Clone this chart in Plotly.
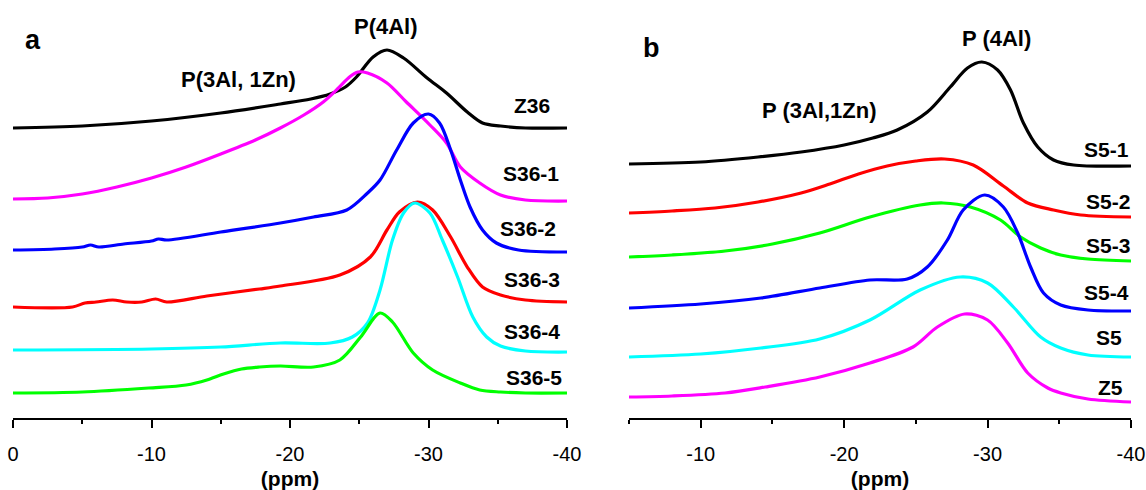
import plotly.graph_objects as go

# ---------------- data (chemical shift in ppm, stacked intensity a.u.) ----------------
# Panel a
z36_x = [0, -5, -10, -15, -19.3, -21.5, -22.9, -24, -24.8, -26, -27, -28.2, -29.9, -31.3, -32.8, -33.9, -35.2, -37, -40]
z36_y = [290, 292, 297, 305, 314, 319, 324, 331, 341, 361, 368, 360, 340, 325, 306, 295, 292, 290, 290]

s36_1_x = [0, -2.5, -5, -7.5, -10, -12.5, -15, -17.5, -19.3, -21, -22.4, -23.5, -24.3, -24.9, -25.6, -27, -28.4,
           -30.1, -31.3, -32.3, -33.7, -35.2, -37, -40]
s36_1_y = [219, 220, 224, 231, 240, 251, 264, 278, 290, 303, 316, 330, 341, 346, 345, 335, 316, 293, 275, 251,
           235, 223, 218, 217]

s36_2_x = [0, -3, -5, -5.6, -6.2, -8, -10, -10.5, -11.1, -15, -19.3, -21.7, -24.1, -25.6, -26.5, -27.7, -28.9,
           -30, -30.8, -31.6, -32.3, -33, -33.9, -34.9, -36.5, -40]
s36_2_y = [168, 169, 171, 173, 171, 174, 177, 179, 178, 186, 195, 201, 208, 225, 238, 268, 295, 304, 295, 268,
           238, 211, 188, 175, 168, 166]

s36_3_x = [0, -4.3, -5.2, -6, -7.2, -8.2, -9.3, -10.3, -11.1, -14, -17.8, -19.3, -23.6, -25.8, -27, -27.9, -29.2,
           -30.3, -31.6, -32.8, -33.9, -35.2, -37, -40]
s36_3_y = [111, 111, 115, 116, 118, 116, 116, 119, 116, 122, 129, 132, 143, 161, 188, 206, 216, 208, 181, 151,
           131, 123, 118, 116]

s36_4_x = [0, -10, -15, -19.3, -22.9, -24.5, -25.6, -26.5, -27.4, -28.2, -29, -30.1, -31, -32.1, -33.2, -34.2,
           -35.2, -37, -40]
s36_4_y = [68, 69, 71, 75, 75, 81, 95, 128, 178, 205, 215, 205, 178, 141, 101, 81, 72, 67, 66]

s36_5_x = [0, -5, -9.8, -12.5, -14, -15.2, -16.5, -17.8, -19.3, -21.7, -23.6, -25.1, -26.5, -27.4, -28.9, -30.3,
           -32.3, -33.7, -35.2, -37, -40]
s36_5_y = [25, 26, 30, 33, 38, 44, 49, 51, 52, 51, 58, 81, 105, 96, 65, 48, 35, 28, 26, 25, 25]

# Panel b
s5_1_x = [-5, -10, -14, -17, -20, -22, -23.7, -25.8, -27.4, -28.6, -29.6, -30.7, -31.6, -32.5, -33.5, -34.6, -36, -40]
s5_1_y = [254, 256, 261, 266, 273, 280, 288, 306, 331, 350, 356, 348, 328, 295, 271, 258, 253, 252]

s5_2_x = [-5, -8, -11, -14, -17, -19, -21, -23, -25, -27, -29, -31.1, -32.8, -34.6, -36.5, -40]
s5_2_y = [205, 207, 210, 216, 225, 234, 244, 252, 257, 259, 253, 232, 215, 208, 203, 201]

s5_3_x = [-5, -8, -11.7, -15, -18.3, -21.8, -25.3, -26.9, -28.8, -30.9, -32.3, -33.7, -35.1, -37, -40]
s5_3_y = [161, 163, 167, 174, 185, 201, 213, 215, 211, 198, 181, 170, 163, 159, 157]

s5_4_x = [-5, -10, -14.2, -18.3, -21.8, -24.4, -25.8, -27.2, -28.3, -29.8, -31.1, -32.1, -33, -33.9, -35.1, -37, -40]
s5_4_y = [110, 114, 120, 130, 138, 139, 151, 178, 208, 223, 211, 185, 151, 125, 113, 108, 107]

s5_x = [-5, -10, -14.2, -18.3, -21.8, -25.3, -28.1, -30, -31.8, -33.7, -35.1, -37, -40]
s5_y = [61, 64, 70, 79, 98, 128, 141, 135, 111, 81, 70, 63, 61]

z5_x = [-5, -8, -11.7, -14.5, -18.3, -21.8, -24.8, -26.5, -28.4, -30, -31.4, -32.8, -34.2, -35.1, -37, -40]
z5_y = [21, 22, 25, 31, 41, 55, 71, 91, 104, 98, 75, 45, 30, 25, 19, 16]

names_a = ["Z36", "S36-1", "S36-2", "S36-3", "S36-4", "S36-5"]
names_b = ["S5-1", "S5-2", "S5-3", "S5-4", "S5", "Z5"]
tick_a = [0, -10, -20, -30, -40]
tick_b = [-10, -20, -30, -40]

# ---------------- styling ----------------
colors_a = ["#000000", "#ff00ff", "#0000ff", "#ff0000", "#00ffff", "#00ff00"]
colors_b = ["#000000", "#ff0000", "#00ff00", "#0000ff", "#00ffff", "#ff00ff"]
FONT = "Arial, Liberation Sans, Helvetica, sans-serif"

series_a = [(z36_x, z36_y), (s36_1_x, s36_1_y), (s36_2_x, s36_2_y),
            (s36_3_x, s36_3_y), (s36_4_x, s36_4_y), (s36_5_x, s36_5_y)]
series_b = [(s5_1_x, s5_1_y), (s5_2_x, s5_2_y), (s5_3_x, s5_3_y),
            (s5_4_x, s5_4_y), (s5_x, s5_y), (z5_x, z5_y)]

fig = go.Figure()
for (x, y), n, c in zip(series_a, names_a, colors_a):
    fig.add_trace(go.Scatter(x=x, y=y, mode="lines", name=n, xaxis="x", yaxis="y",
                             line=dict(color=c, width=3.2, shape="spline", smoothing=0.9)))
for (x, y), n, c in zip(series_b, names_b, colors_b):
    fig.add_trace(go.Scatter(x=x, y=y, mode="lines", name=n, xaxis="x2", yaxis="y2",
                             line=dict(color=c, width=3.2, shape="spline", smoothing=0.9)))

W, H = 1146, 490
axis_common = dict(
    showgrid=False, zeroline=False, showline=True, linecolor="#000", linewidth=1.5,
    ticks="outside", ticklen=8, tickwidth=1.5, tickcolor="#000",
    tickfont=dict(family=FONT, size=20, color="#000"),
    minor=dict(ticks="outside", ticklen=4, tickwidth=1.5, tickcolor="#000", dtick=5, tick0=0),
    ticklabelstandoff=9,
    title=dict(text="<b>(ppm)</b>", font=dict(family=FONT, size=21, color="#000"), standoff=13),
    automargin=False,
)
yaxis_common = dict(visible=False, range=[0, 418], fixedrange=True)
bottom = (H - 418) / H

fig.update_layout(
    width=W, height=H,
    margin=dict(l=0, r=0, t=0, b=0),
    paper_bgcolor="white", plot_bgcolor="white",
    showlegend=False,
    xaxis=dict(domain=[13 / W, 567 / W], range=[0, -40], tickvals=tick_a,
               ticktext=[str(v) for v in tick_a], anchor="y", **axis_common),
    yaxis=dict(domain=[bottom, 1], anchor="x", **yaxis_common),
    xaxis2=dict(domain=[629 / W, 1131 / W], range=[-5, -40], tickvals=tick_b,
                ticktext=[str(v) for v in tick_b], anchor="y2", **axis_common),
    yaxis2=dict(domain=[bottom, 1], anchor="x2", **yaxis_common),
)

label_font = dict(family=FONT, size=21, color="#000")
lab_a = [(-37.5, 313), (-37.4, 245), (-37.2, 190), (-37.5, 139), (-37.5, 87), (-37.6, 41)]
lab_b = [(-38.3, 269), (-38.4, 217), (-38.4, 173), (-38.3, 126), (-38.5, 81), (-38.6, 31)]
for n, (lx, ly) in zip(names_a, lab_a):
    fig.add_annotation(x=lx, y=ly, xref="x", yref="y", text=f"<b>{n}</b>", showarrow=False,
                       font=label_font, xanchor="center", yanchor="middle")
for n, (lx, ly) in zip(names_b, lab_b):
    fig.add_annotation(x=lx, y=ly, xref="x2", yref="y2", text=f"<b>{n}</b>", showarrow=False,
                       font=label_font, xanchor="center", yanchor="middle")

peak_font = dict(family=FONT, size=22, color="#000")
fig.add_annotation(x=-26.9, y=392, xref="x", yref="y", text="<b>P(4Al)</b>", showarrow=False,
                   font=peak_font, xanchor="center", yanchor="middle")
fig.add_annotation(x=-16.3, y=339, xref="x", yref="y", text="<b>P(3Al, 1Zn)</b>", showarrow=False,
                   font=peak_font, xanchor="center", yanchor="middle")
fig.add_annotation(x=-30.6, y=380, xref="x2", yref="y2", text="<b>P (4Al)</b>", showarrow=False,
                   font=peak_font, xanchor="center", yanchor="middle")
fig.add_annotation(x=-18.3, y=308, xref="x2", yref="y2", text="<b>P (3Al,1Zn)</b>", showarrow=False,
                   font=peak_font, xanchor="center", yanchor="middle")

panel_font = dict(family=FONT, size=27, color="#000")
fig.add_annotation(x=33 / W, y=1 - 40 / H, xref="paper", yref="paper", text="<b>a</b>", showarrow=False,
                   font=panel_font, xanchor="center", yanchor="middle")
fig.add_annotation(x=651 / W, y=1 - 48 / H, xref="paper", yref="paper", text="<b>b</b>", showarrow=False,
                   font=panel_font, xanchor="center", yanchor="middle")

fig.write_html("out.html", config={"displayModeBar": False},
               post_script="document.body.style.margin='0px';document.body.style.overflow='hidden';")
